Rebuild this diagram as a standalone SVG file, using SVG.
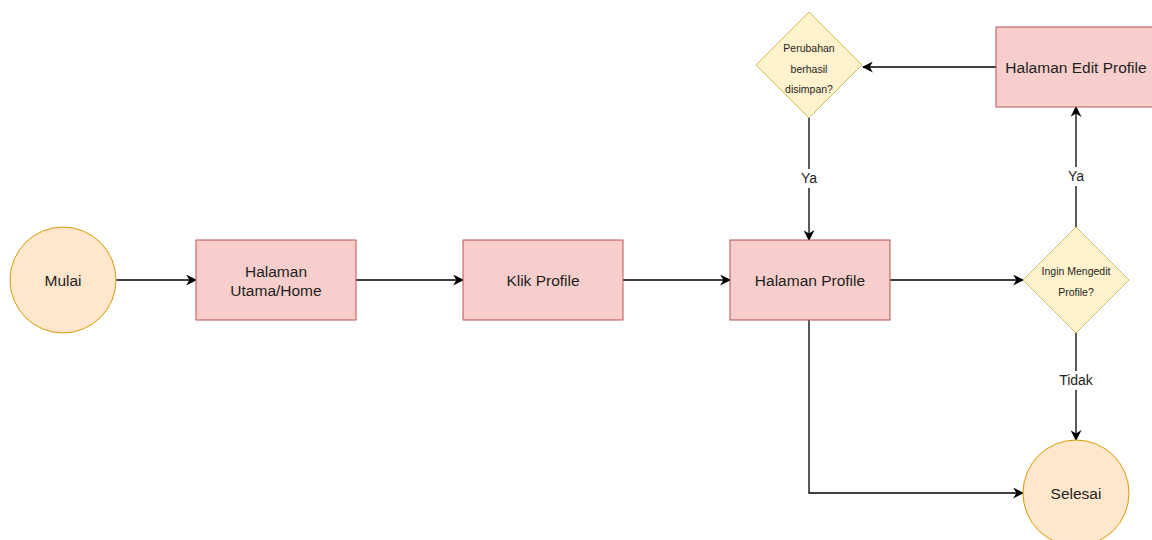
<svg xmlns="http://www.w3.org/2000/svg" width="1152" height="540" viewBox="0 0 1152 540">
  <style>
    .proc { fill: #f8cecc; stroke: #b85450; stroke-width: 1; }
    .term { fill: #ffe6cc; stroke: #d79b00; stroke-width: 1; }
    .dec { fill: #fff2cc; stroke: #d6b656; stroke-width: 1; }
    text { font-family: "Liberation Sans", Arial, sans-serif; fill: #1e1e1e; text-anchor: middle; }
    .lbl { font-size: 15.5px; }
    .small { font-size: 10.5px; }
    .edge { fill: none; stroke: #000; stroke-width: 1.3; marker-end: url(#arrow); }
    .elbl { font-size: 14px; }
  </style>
  <defs>
    <marker id="arrow" viewBox="0 0 10 10" refX="9" refY="5" markerWidth="11" markerHeight="11" markerUnits="userSpaceOnUse" orient="auto">
      <path d="M0,0 L10,5 L0,10 L3,5 Z" fill="#000"/>
    </marker>
  </defs>
  <rect width="1152" height="540" fill="#fff"/>

  <!-- connectors and their labels -->
  <g id="connectors">
    <path class="edge" d="M116,280 L196,280"/>
    <path class="edge" d="M356,280 L463,280"/>
    <path class="edge" d="M623,280 L730,280"/>
    <path class="edge" d="M890,280 L1023,280"/>
    <path class="edge" d="M996,67 L863,67"/>
    <path class="edge" d="M809,118 L809,240"/>
    <path class="edge" d="M1076,227 L1076,107"/>
    <path class="edge" d="M1076,333 L1076,440"/>
    <path class="edge" d="M809,320 L809,493 L1023,493"/>
    <rect x="796" y="169" width="26" height="19" fill="#fff"/>
    <text class="elbl" x="809" y="183">Ya</text>
    <rect x="1063" y="167" width="26" height="19" fill="#fff"/>
    <text class="elbl" x="1076" y="181">Ya</text>
    <rect x="1056" y="371" width="40" height="19" fill="#fff"/>
    <text class="elbl" x="1076" y="385">Tidak</text>
  </g>

  <g id="mulai">
    <circle class="term" cx="63" cy="280" r="53"/>
    <text class="lbl" x="63" y="286">Mulai</text>
  </g>
  <g id="halaman-utama">
    <rect class="proc" x="196" y="240" width="160" height="80"/>
    <text class="lbl" x="276" y="277">Halaman</text>
    <text class="lbl" x="276" y="296">Utama/Home</text>
  </g>
  <g id="klik-profile">
    <rect class="proc" x="463" y="240" width="160" height="80"/>
    <text class="lbl" x="543" y="286">Klik Profile</text>
  </g>
  <g id="halaman-profile">
    <rect class="proc" x="730" y="240" width="160" height="80"/>
    <text class="lbl" x="810" y="286">Halaman Profile</text>
  </g>
  <g id="ingin-mengedit">
    <polygon class="dec" points="1076,227 1129,280 1076,333 1023,280"/>
    <text class="small" x="1076" y="275">Ingin Mengedit</text>
    <text class="small" x="1076" y="296">Profile?</text>
  </g>
  <g id="halaman-edit-profile">
    <rect class="proc" x="996" y="27" width="160" height="80"/>
    <text class="lbl" x="1076" y="73">Halaman Edit Profile</text>
  </g>
  <g id="perubahan-berhasil">
    <polygon class="dec" points="809,12 862,65 809,118 756,65"/>
    <text class="small" x="809" y="52">Perubahan</text>
    <text class="small" x="809" y="73">berhasil</text>
    <text class="small" x="809" y="93">disimpan?</text>
  </g>
  <g id="selesai">
    <circle class="term" cx="1076" cy="493" r="53"/>
    <text class="lbl" x="1076" y="499">Selesai</text>
  </g>
</svg>
